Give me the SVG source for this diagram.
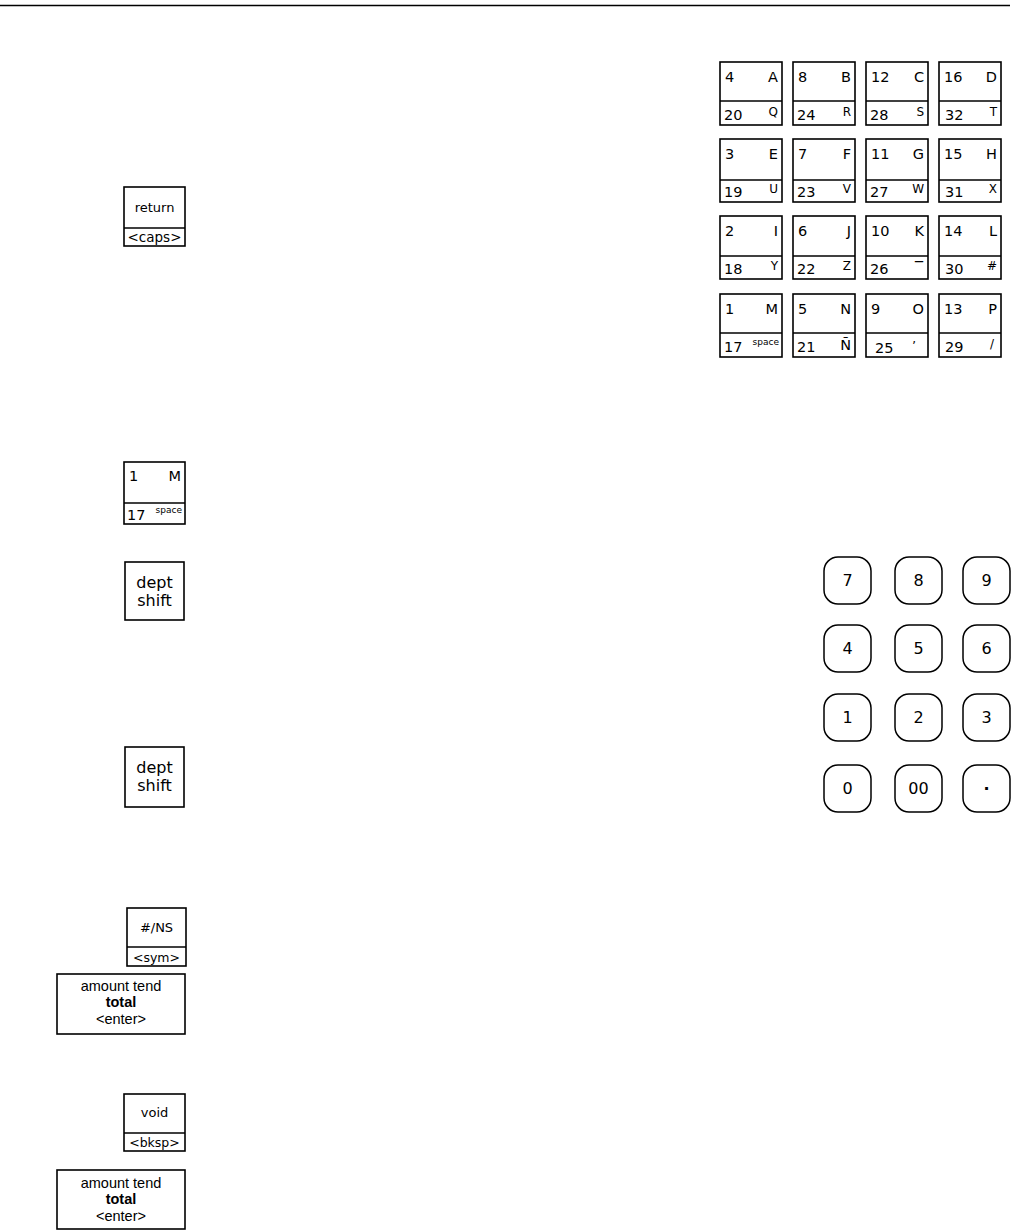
<svg xmlns="http://www.w3.org/2000/svg" width="1015" height="1232" viewBox="0 0 1015 1232">
<style>
.k{fill:#fff;stroke:#000;stroke-width:1.6}
.d{stroke:#000;stroke-width:1.5}
.n{fill:#fff;stroke:#000;stroke-width:1.5}
.v{font-family:"DejaVu Sans",Verdana,sans-serif;fill:#000}
.a{font-family:"Liberation Sans",Arial,sans-serif;fill:#000}
.g{font-size:14.5px}
.s{font-size:12px}
.m{text-anchor:middle}
.e{text-anchor:end}
</style>
<rect width="1015" height="1232" fill="#fff"/>
<line x1="0" y1="5.5" x2="1010" y2="5.5" stroke="#000" stroke-width="1.5"/>

<g id="key-return">
<rect class="k" x="124" y="187" width="61" height="59"/>
<line class="d" x1="124" y1="228" x2="185" y2="228"/>
<text class="v m" x="154.5" y="212" font-size="13">return</text>
<text class="v m" x="154.5" y="242" font-size="13.5">&lt;caps&gt;</text>
</g>

<g id="key-1M-left">
<rect class="k" x="124" y="462" width="61" height="62"/>
<line class="d" x1="124" y1="503" x2="185" y2="503"/>
<text class="v g" x="129" y="481">1</text>
<text class="v g e" x="181" y="481">M</text>
<text class="v g" x="127" y="520">17</text>
<text class="v e" x="182" y="513" font-size="9">space</text>
</g>

<g id="key-dept-shift-1">
<rect class="k" x="125" y="562" width="59" height="58"/>
<text class="v m" x="154.5" y="588" font-size="16">dept</text>
<text class="v m" x="154.5" y="606" font-size="16">shift</text>
</g>

<g id="key-dept-shift-2">
<rect class="k" x="125" y="747" width="59" height="60"/>
<text class="v m" x="154.5" y="773" font-size="16">dept</text>
<text class="v m" x="154.5" y="791" font-size="16">shift</text>
</g>

<g id="key-ns">
<rect class="k" x="127" y="908" width="59" height="58"/>
<line class="d" x1="127" y1="947" x2="186" y2="947"/>
<text class="v m" x="156.5" y="932" font-size="13">#/NS</text>
<text class="v m" x="156.5" y="962" font-size="12.5">&lt;sym&gt;</text>
</g>

<g id="key-total-1">
<rect class="k" x="57" y="974" width="128" height="60"/>
<text class="a m" x="121" y="991" font-size="14.5">amount tend</text>
<text class="a m" x="121" y="1007" font-size="14.5" font-weight="bold">total</text>
<text class="a m" x="121" y="1024" font-size="14.5">&lt;enter&gt;</text>
</g>

<g id="key-void">
<rect class="k" x="124" y="1094" width="61" height="57"/>
<line class="d" x1="124" y1="1133" x2="185" y2="1133"/>
<text class="v m" x="154.5" y="1117" font-size="13">void</text>
<text class="v m" x="154.5" y="1147" font-size="12.5">&lt;bksp&gt;</text>
</g>

<g id="key-total-2">
<rect class="k" x="57" y="1170" width="128" height="59"/>
<text class="a m" x="121" y="1188" font-size="14.5">amount tend</text>
<text class="a m" x="121" y="1204" font-size="14.5" font-weight="bold">total</text>
<text class="a m" x="121" y="1221" font-size="14.5">&lt;enter&gt;</text>
</g>

<g id="grid">
<g id="key-4A"><rect class="k" x="720" y="62" width="62" height="63"/><line class="d" x1="720" y1="101" x2="782" y2="101"/><text class="v g" x="725" y="82">4</text><text class="v g e" x="778" y="82">A</text><text class="v g" x="724" y="120">20</text><text class="v s e" x="778" y="116">Q</text></g>
<g id="key-8B"><rect class="k" x="793" y="62" width="62" height="63"/><line class="d" x1="793" y1="101" x2="855" y2="101"/><text class="v g" x="798" y="82">8</text><text class="v g e" x="851" y="82">B</text><text class="v g" x="797" y="120">24</text><text class="v s e" x="851" y="116">R</text></g>
<g id="key-12C"><rect class="k" x="866" y="62" width="62" height="63"/><line class="d" x1="866" y1="101" x2="928" y2="101"/><text class="v g" x="871" y="82">12</text><text class="v g e" x="924" y="82">C</text><text class="v g" x="870" y="120">28</text><text class="v s e" x="924" y="116">S</text></g>
<g id="key-16D"><rect class="k" x="939" y="62" width="62" height="63"/><line class="d" x1="939" y1="101" x2="1001" y2="101"/><text class="v g" x="944" y="82">16</text><text class="v g e" x="997" y="82">D</text><text class="v g" x="945" y="120">32</text><text class="v s e" x="997" y="116">T</text></g>

<g id="key-3E"><rect class="k" x="720" y="139" width="62" height="63"/><line class="d" x1="720" y1="180" x2="782" y2="180"/><text class="v g" x="725" y="159">3</text><text class="v g e" x="778" y="159">E</text><text class="v g" x="724" y="197">19</text><text class="v s e" x="778" y="193">U</text></g>
<g id="key-7F"><rect class="k" x="793" y="139" width="62" height="63"/><line class="d" x1="793" y1="180" x2="855" y2="180"/><text class="v g" x="798" y="159">7</text><text class="v g e" x="851" y="159">F</text><text class="v g" x="797" y="197">23</text><text class="v s e" x="851" y="193">V</text></g>
<g id="key-11G"><rect class="k" x="866" y="139" width="62" height="63"/><line class="d" x1="866" y1="180" x2="928" y2="180"/><text class="v g" x="871" y="159">11</text><text class="v g e" x="924" y="159">G</text><text class="v g" x="870" y="197">27</text><text class="v s e" x="924" y="193">W</text></g>
<g id="key-15H"><rect class="k" x="939" y="139" width="62" height="63"/><line class="d" x1="939" y1="180" x2="1001" y2="180"/><text class="v g" x="944" y="159">15</text><text class="v g e" x="997" y="159">H</text><text class="v g" x="945" y="197">31</text><text class="v s e" x="997" y="193">X</text></g>

<g id="key-2I"><rect class="k" x="720" y="216" width="62" height="63"/><line class="d" x1="720" y1="256" x2="782" y2="256"/><text class="v g" x="725" y="236">2</text><text class="v g e" x="778" y="236">I</text><text class="v g" x="724" y="274">18</text><text class="v s e" x="778" y="270">Y</text></g>
<g id="key-6J"><rect class="k" x="793" y="216" width="62" height="63"/><line class="d" x1="793" y1="256" x2="855" y2="256"/><text class="v g" x="798" y="236">6</text><text class="v g e" x="851" y="236">J</text><text class="v g" x="797" y="274">22</text><text class="v s e" x="851" y="270">Z</text></g>
<g id="key-10K"><rect class="k" x="866" y="216" width="62" height="63"/><line class="d" x1="866" y1="256" x2="928" y2="256"/><text class="v g" x="871" y="236">10</text><text class="v g e" x="924" y="236">K</text><text class="v g" x="870" y="274">26</text><text class="v e" x="923" y="273" font-size="16">‾</text></g>
<g id="key-14L"><rect class="k" x="939" y="216" width="62" height="63"/><line class="d" x1="939" y1="256" x2="1001" y2="256"/><text class="v g" x="944" y="236">14</text><text class="v g e" x="997" y="236">L</text><text class="v g" x="945" y="274">30</text><text class="v s e" x="997" y="270">#</text></g>

<g id="key-1M"><rect class="k" x="720" y="294" width="62" height="63"/><line class="d" x1="720" y1="333" x2="782" y2="333"/><text class="v g" x="725" y="314">1</text><text class="v g e" x="778" y="314">M</text><text class="v g" x="724" y="352">17</text><text class="v e" x="779" y="345" font-size="9">space</text></g>
<g id="key-5N"><rect class="k" x="793" y="294" width="62" height="63"/><line class="d" x1="793" y1="333" x2="855" y2="333"/><text class="v g" x="798" y="314">5</text><text class="v g e" x="851" y="314">N</text><text class="v g" x="797" y="352">21</text><text class="v g e" x="851" y="350">Ñ</text></g>
<g id="key-9O"><rect class="k" x="866" y="294" width="62" height="63"/><line class="d" x1="866" y1="333" x2="928" y2="333"/><text class="v g" x="871" y="314">9</text><text class="v g e" x="924" y="314">O</text><text class="v g" x="875" y="353">25</text><text class="v s e" x="916" y="343">,</text></g>
<g id="key-13P"><rect class="k" x="939" y="294" width="62" height="63"/><line class="d" x1="939" y1="333" x2="1001" y2="333"/><text class="v g" x="944" y="314">13</text><text class="v g e" x="997" y="314">P</text><text class="v g" x="945" y="352">29</text><text class="v s e" x="994" y="348">/</text></g>
</g>

<g id="numpad">
<g id="num-7"><rect class="n" x="824" y="557" width="47" height="47" rx="14"/><text class="v m" x="847.5" y="586" font-size="16">7</text></g>
<g id="num-8"><rect class="n" x="895" y="557" width="47" height="47" rx="14"/><text class="v m" x="918.5" y="586" font-size="16">8</text></g>
<g id="num-9"><rect class="n" x="963" y="557" width="47" height="47" rx="14"/><text class="v m" x="986.5" y="586" font-size="16">9</text></g>
<g id="num-4"><rect class="n" x="824" y="625" width="47" height="47" rx="14"/><text class="v m" x="847.5" y="654" font-size="16">4</text></g>
<g id="num-5"><rect class="n" x="895" y="625" width="47" height="47" rx="14"/><text class="v m" x="918.5" y="654" font-size="16">5</text></g>
<g id="num-6"><rect class="n" x="963" y="625" width="47" height="47" rx="14"/><text class="v m" x="986.5" y="654" font-size="16">6</text></g>
<g id="num-1"><rect class="n" x="824" y="694" width="47" height="47" rx="14"/><text class="v m" x="847.5" y="723" font-size="16">1</text></g>
<g id="num-2"><rect class="n" x="895" y="694" width="47" height="47" rx="14"/><text class="v m" x="918.5" y="723" font-size="16">2</text></g>
<g id="num-3"><rect class="n" x="963" y="694" width="47" height="47" rx="14"/><text class="v m" x="986.5" y="723" font-size="16">3</text></g>
<g id="num-0"><rect class="n" x="824" y="765" width="47" height="47" rx="14"/><text class="v m" x="847.5" y="794" font-size="16">0</text></g>
<g id="num-00"><rect class="n" x="895" y="765" width="47" height="47" rx="14"/><text class="v m" x="918.5" y="794" font-size="16">00</text></g>
<g id="num-dot"><rect class="n" x="963" y="765" width="47" height="47" rx="14"/><text class="v m" x="986.5" y="794" font-size="16" font-weight="bold">·</text></g>
</g>
</svg>
